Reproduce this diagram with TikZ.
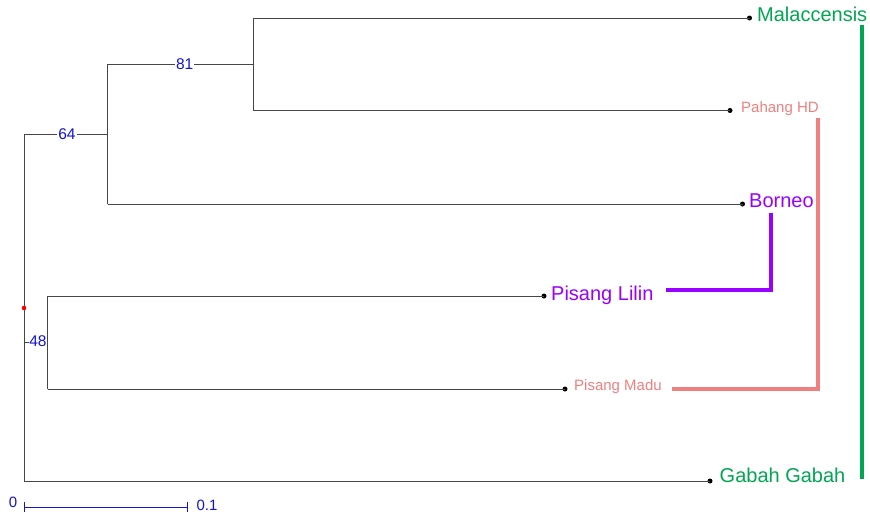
\documentclass[tikz,border=0pt]{standalone}
\usepackage{fontspec}
\setmainfont{Liberation Sans}
\usetikzlibrary{calc}
\definecolor{cgreen}{RGB}{0,166,81}
\definecolor{csalmon}{RGB}{240,128,128}
\definecolor{cpurple}{RGB}{153,0,255}
\definecolor{cblue}{RGB}{20,20,210}
\definecolor{cline}{RGB}{70,70,70}
\tikzset{
  br/.style={draw=cline, line width=1pt},
  leafdot/.style={circle, fill=black, inner sep=0pt, minimum size=5pt},
  big/.style={font=\fontsize{20}{24}\selectfont, inner sep=0pt, anchor=base west},
  small/.style={font=\fontsize{15}{18}\selectfont, inner sep=0pt, anchor=base west},
  boot/.style={font=\fontsize{15.5}{18}\selectfont, text=cblue, fill=white, inner sep=1pt},
  bar/.style={line width=4pt},
  scl/.style={font=\fontsize{15}{18}\selectfont, text=cblue, inner sep=0pt}
}
\begin{document}
\begin{tikzpicture}[x=1pt,y=-1pt]
\useasboundingbox[fill=white] (0,0) rectangle (870,520);
% internal nodes
\coordinate (r) at (24,308);
\coordinate (rt) at (24,134);
\coordinate (rb) at (24,481);
\coordinate (r48) at (24,342);
\coordinate (n64) at (107.5,134);
\coordinate (n64t) at (107.5,64);
\coordinate (n64b) at (107.5,204);
\coordinate (n81) at (253,64);
\coordinate (n81t) at (253,18);
\coordinate (n81b) at (253,110.5);
\coordinate (n48) at (47.5,342);
\coordinate (n48t) at (47.5,296);
\coordinate (n48b) at (47.5,389);
% leaves
\node[leafdot] (lMal) at (749.5,18) {};
\node[leafdot] (lPah) at (730,110.5) {};
\node[leafdot] (lBor) at (742.5,204) {};
\node[leafdot] (lLil) at (544,296) {};
\node[leafdot] (lMad) at (565,389) {};
\node[leafdot] (lGab) at (710,481) {};
% tree
\draw[br] (rt) -- (rb);
\draw[br] (rt) -- (n64);
\draw[br] (n64t) -- (n64b);
\draw[br] (n64t) -- (n81);
\draw[br] (n81t) -- (n81b);
\draw[br] (n81t) -- (lMal.center);
\draw[br] (n81b) -- (lPah.center);
\draw[br] (n64b) -- (lBor.center);
\draw[br] (r48) -- (n48);
\draw[br] (n48t) -- (n48b);
\draw[br] (n48t) -- (lLil.center);
\draw[br] (n48b) -- (lMad.center);
\draw[br] (rb) -- (lGab.center);
\fill[red] (r) circle[radius=2.3pt];
% bootstrap labels
\node[boot] (b64) at (67,134) {64};
\node[boot] (b81) at (184.7,64) {81};
\node[boot, inner sep=0pt] (b48) at (38,341) {48};
% leaf labels
\node[big, text=cgreen] (tMal) at (757,21) {Malaccensis};
\node[small, text=csalmon] (tPah) at (741,112) {Pahang HD};
\node[big, text=cpurple] (tBor) at (749,207) {Borneo};
\node[big, text=cpurple] (tLil) at (551,300) {Pisang Lilin};
\node[small, text=csalmon] (tMad) at (574,390.5) {Pisang Madu};
\node[big, text=cgreen] (tGab) at (719.5,482.5) {Gabah Gabah};
% group bars
\coordinate (gT) at (862,25);
\coordinate (gB) at (862,479);
\draw[bar, cgreen] (gT) -- (gB);
\coordinate (sT) at (818,118);
\coordinate (sC) at (818,389);
\coordinate (sL) at (672,389);
\draw[bar, csalmon, line join=miter] (sT) -- (sC) -- (sL);
\coordinate (pT) at (771,213);
\coordinate (pC) at (771,290);
\coordinate (pL) at (666,290);
\draw[bar, cpurple, line join=miter] (pT) -- (pC) -- (pL);
% scale bar
\coordinate (s0) at (24,507);
\coordinate (s1) at (187,507);
\draw[draw=cblue, line width=1pt] (s0) -- (s1);
\draw[draw=cblue, line width=1pt] ($(s0)+(0,-5)$) -- ($(s0)+(0,5)$);
\draw[draw=cblue, line width=1pt] ($(s1)+(0,-5)$) -- ($(s1)+(0,5)$);
\node[scl] (l0) at (13,502.5) {0};
\node[scl] (l1) at (207,505) {0.1};
\end{tikzpicture}
\end{document}
